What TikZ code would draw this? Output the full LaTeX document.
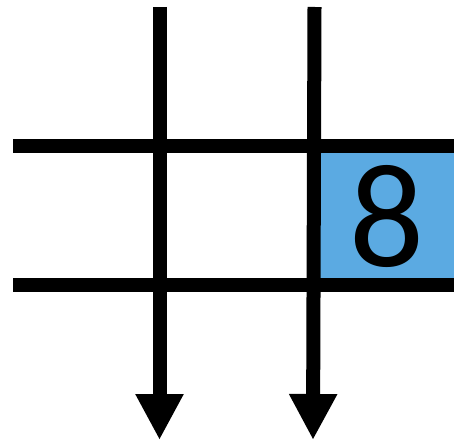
\documentclass[tikz,border=0pt]{standalone}
\usepackage{fontspec}
\setmainfont{Carlito}
\usetikzlibrary{arrows.meta}
\definecolor{cellblue}{RGB}{91,170,226}

\begin{document}
\begin{tikzpicture}[x=1pt,y=-1pt]
\tikzset{grid line/.style = {line width=14pt}}
\tikzset{down arrow/.style = {line width=14pt, -{Triangle[width=45pt,length=46pt]}}}
\tikzset{cell/.style = {fill=cellblue, inner sep=0pt, minimum width=139pt, minimum height=139pt, font=\fontsize{148}{148}\selectfont}}

   \useasboundingbox (0,0) rectangle (454,441);

   % the filled cell
   \node[cell] (eight) at (384.5,215.5) {};
   \node[font=\fontsize{148}{148}\selectfont, inner sep=0pt] (digit) at (387,216) {8};

   % row lines
   \coordinate (r1a) at (13,146);
   \coordinate (r1b) at (454,146);
   \coordinate (r2a) at (13,285);
   \coordinate (r2b) at (454,285);
   \draw[grid line] (r1a) -- (r1b);
   \draw[grid line] (r2a) -- (r2b);

   % column arrows
   \coordinate (c1a) at (159.5,7);
   \coordinate (c1b) at (159.5,440);
   \coordinate (c2a) at (314.5,7);
   \coordinate (c2b) at (313,440);
   \draw[down arrow] (c1a) -- (c1b);
   \draw[down arrow] (c2a) -- (c2b);

\end{tikzpicture}
\end{document}
